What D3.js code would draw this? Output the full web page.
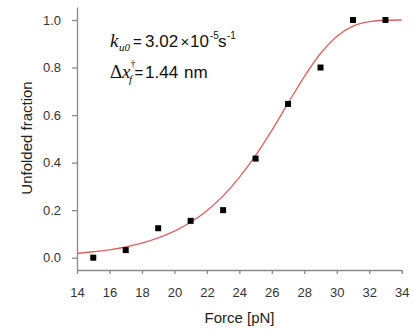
<!DOCTYPE html>
<html>
<head>
<meta charset="utf-8">
<script src="https://cdn.jsdelivr.net/npm/d3@7"></script>
<style>
  html, body { margin: 0; padding: 0; background: #fff; }
  svg { display: block; }
  .tick text { font-family: "Liberation Sans", Arial, sans-serif; font-size: 13px; fill: #333; }
</style>
</head>
<body>
<svg id="chart" width="413" height="331"></svg>
<script>
// Measured unfolded fraction at each constant force
const forces = [15, 17, 19, 21, 23, 25, 27, 29, 31, 33];
const fractions = [0.0, 0.032, 0.124, 0.155, 0.2, 0.417, 0.647, 0.80, 1.0, 1.0];

// Bell-model fit curve, sampled every 1 pN
const fitForces = [14, 15, 16, 17, 18, 19, 20, 21, 22, 23, 24, 25, 26, 27, 28, 29, 30, 31, 32, 33, 34];
const fitFractions = [0.018, 0.025, 0.033, 0.045, 0.061, 0.083, 0.112, 0.149, 0.198, 0.260, 0.338,
                      0.430, 0.536, 0.650, 0.762, 0.859, 0.931, 0.974, 0.993, 0.999, 1.0];

const xTicks = [14, 16, 18, 20, 22, 24, 26, 28, 30, 32, 34];
const yTicks = [0.0, 0.2, 0.4, 0.6, 0.8, 1.0];

const svg = d3.select("#chart");
const axisColor = "#8a8a8a";
const sans = "Liberation Sans, Arial, sans-serif";
const serif = "Liberation Serif, Times New Roman, serif";

const x = d3.scaleLinear().domain([14, 34]).range([77, 401.7]);
const y = d3.scaleLinear().domain([0, 1]).range([257.7, 20]);
// y axis line runs a little beyond the 0–1 range
const yAxisScale = y.copy().domain([y.invert(270), y.invert(7)]).range([270, 7]);

// X axis
const gx = svg.append("g")
  .attr("transform", "translate(0,270)")
  .call(d3.axisBottom(x).tickValues(xTicks).tickFormat(d3.format("d")).tickSize(4).tickSizeOuter(0));
gx.select(".domain").attr("stroke", axisColor).attr("stroke-width", 1.3);
gx.selectAll(".tick line").attr("stroke", axisColor).attr("stroke-width", 1.3);
gx.selectAll(".tick text").attr("dy", "0").attr("y", 27);

// Y axis
const gy = svg.append("g")
  .attr("transform", "translate(77,0)")
  .call(d3.axisLeft(yAxisScale).tickValues(yTicks).tickFormat(d3.format(".1f")).tickSize(5).tickSizeOuter(0));
gy.select(".domain").attr("stroke", axisColor).attr("stroke-width", 1.3);
gy.selectAll(".tick line").attr("stroke", axisColor).attr("stroke-width", 1.3);
gy.selectAll(".tick text").attr("x", -16);

// Fit curve
const line = d3.line()
  .x((d, i) => x(fitForces[i]))
  .y(d => y(d))
  .curve(d3.curveMonotoneX);
svg.append("path")
  .datum(fitFractions)
  .attr("d", line)
  .attr("fill", "none")
  .attr("stroke", "#e06060")
  .attr("stroke-width", 1.3);

// Data points
const s = 6;
svg.append("g").selectAll("rect")
  .data(forces)
  .join("rect")
  .attr("x", (d) => x(d) - s / 2)
  .attr("y", (d, i) => y(fractions[i]) - s / 2)
  .attr("width", s)
  .attr("height", s)
  .attr("fill", "#000");

// Axis titles
svg.append("text")
  .attr("transform", "translate(32,138) rotate(-90)")
  .attr("text-anchor", "middle")
  .attr("font-family", sans)
  .attr("font-size", 15)
  .attr("fill", "#222")
  .text("Unfolded fraction");

svg.append("text")
  .attr("x", 239.5)
  .attr("y", 323)
  .attr("text-anchor", "middle")
  .attr("font-family", sans)
  .attr("font-size", 15)
  .attr("fill", "#222")
  .text("Force [pN]");

// Fit parameters: each piece placed on its own
const params = svg.append("g").attr("fill", "#111");
function piece(px, py, str, family, size, italic) {
  params.append("text")
    .attr("x", px).attr("y", py)
    .attr("font-family", family)
    .attr("font-size", size)
    .attr("font-style", italic ? "italic" : "normal")
    .text(str);
}
// k_u0 = 3.02 ×10^-5 s^-1
piece(110, 47, "k", serif, 19, true);
piece(119, 51, "u0", serif, 11, true);
piece(133, 47, "=", sans, 15, false);
piece(145, 47, "3.02", sans, 17, false);
piece(180.5, 47, "×", sans, 15, false);
piece(190, 47, "10", sans, 17, false);
piece(210, 39, "-5", sans, 10, false);
piece(218, 47, "s", sans, 17, false);
piece(227, 39, "-1", sans, 10, false);
// Δx_f^† = 1.44 nm
piece(110, 78, "Δ", serif, 19, false);
piece(122, 78, "x", serif, 19, true);
piece(130.5, 67, "†", serif, 10, false);
piece(129, 83, "f", serif, 11, true);
piece(134.5, 78, "=", sans, 15, false);
piece(145, 78, "1.44", sans, 17, false);
piece(184, 78, "nm", sans, 17, false);
</script>
</body>
</html>
